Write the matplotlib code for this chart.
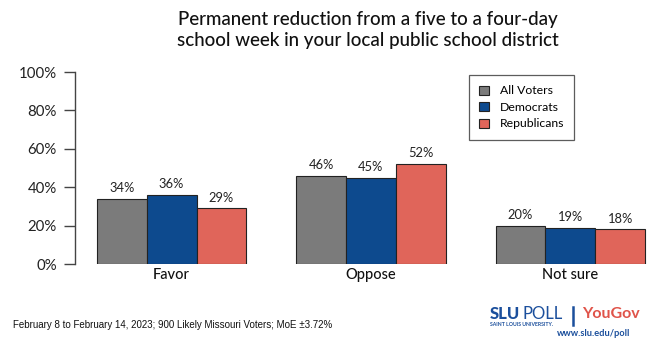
import matplotlib
matplotlib.use("Agg")
import matplotlib.pyplot as plt
import numpy as np
from matplotlib.patches import Patch

categories = ["Favor", "Oppose", "Not sure"]
series_names = ["All Voters", "Democrats", "Republicans"]
all_voters = [34, 46, 20]
democrats = [36, 45, 19]
republicans = [29, 52, 18]
y_ticks = [0, 20, 40, 60, 80, 100]
y_tick_labels = ["0%", "20%", "40%", "60%", "80%", "100%"]

title = "Permanent reduction from a five to a four-day\nschool week in your local public school district"
footnote = "February 8 to February 14, 2023; 900 Likely Missouri Voters; MoE \u00b13.72%"

colors = ["#7b7b7b", "#0d4a8e", "#e0655a"]
W, H = 654, 340
fig = plt.figure(figsize=(W / 100, H / 100), dpi=100)

# axes placed in pixel terms: left spine at x=75, 0% at y=264, 100% at y=72
ax = fig.add_axes([75 / W, (H - 264) / H, (W - 75) / W, 192 / H])

x = np.arange(len(categories))
bw = 0.25
for i, (vals, c) in enumerate(zip([all_voters, democrats, republicans], colors)):
    pos = x + (i - 1) * bw
    ax.bar(pos, vals, width=bw, color=c, edgecolor="#222222", linewidth=0.8, zorder=3)
    for p, v in zip(pos, vals):
        ax.text(p, v + 2.5, f"{v}%", ha="center", va="bottom", fontsize=9.3,
                family="Lato", color="#222222")

ax.set_xlim(-0.485, 2.42)
ax.set_ylim(0, 100)
ax.set_yticks(y_ticks)
ax.set_yticklabels(y_tick_labels, family="Lato", fontsize=10.8, color="#222222")
ax.tick_params(axis="y", length=8, width=1, color="#444444", pad=5)
ax.set_xticks(x)
ax.set_xticklabels(categories, family="Lato", fontsize=10.5, fontweight="medium", color="#111111")
ax.tick_params(axis="x", length=0, pad=3)
for s in ["top", "right", "bottom"]:
    ax.spines[s].set_visible(False)
ax.spines["left"].set_color("#444444")
ax.spines["left"].set_linewidth(1)

handles = [Patch(facecolor=c, edgecolor="#222222", linewidth=0.8) for c in colors]
leg = ax.legend(handles, series_names, loc="upper left",
                bbox_to_anchor=((469 - 75) / (W - 75), 1 - (75 - 72) / 192),
                frameon=True, fancybox=False, prop={"family": "Lato", "size": 8.8},
                handlelength=0.75, handleheight=0.75, handletextpad=0.9, borderpad=0.85,
                borderaxespad=0, labelspacing=0.45)
leg.get_frame().set_edgecolor("#333333")
leg.get_frame().set_linewidth(0.9)

fig.text(368 / W, 1 - 30 / H, title, ha="center", va="center", fontsize=13.5,
         family="Lato", fontweight="medium", color="#111111", linespacing=1.3)

fig.text(13 / W, 1 - 325 / H, footnote, ha="left", va="center", fontsize=7,
         family="Liberation Sans", color="#111111")

# SLU Poll / YouGov mark
blue = "#1b4f9c"
fig.text(490 / W, 1 - 314 / H, "SLU", ha="left", va="center", fontsize=12,
         family="Lato", fontweight="black", color=blue)
fig.text(523 / W, 1 - 314 / H, "POLL", ha="left", va="center", fontsize=12,
         family="Lato", color=blue)
fig.text(490 / W, 1 - 324.5 / H, "SAINT LOUIS UNIVERSITY.", ha="left", va="center",
         fontsize=3.7, family="Lato", fontweight="bold", color=blue)
fig.add_artist(plt.Line2D([573 / W, 573 / W], [1 - 325 / H, 1 - 307 / H],
                          color=blue, linewidth=1.8, transform=fig.transFigure))
fig.text(582 / W, 1 - 314.5 / H, "YouGov", ha="left", va="center", fontsize=11.5,
         family="Lato", fontweight="bold", color="#e0544a")
fig.text(630 / W, 1 - 334 / H, "www.slu.edu/poll", ha="right", va="center",
         fontsize=6.7, family="Lato", fontweight="bold", color=blue)

fig.savefig("out.png", dpi=100)
